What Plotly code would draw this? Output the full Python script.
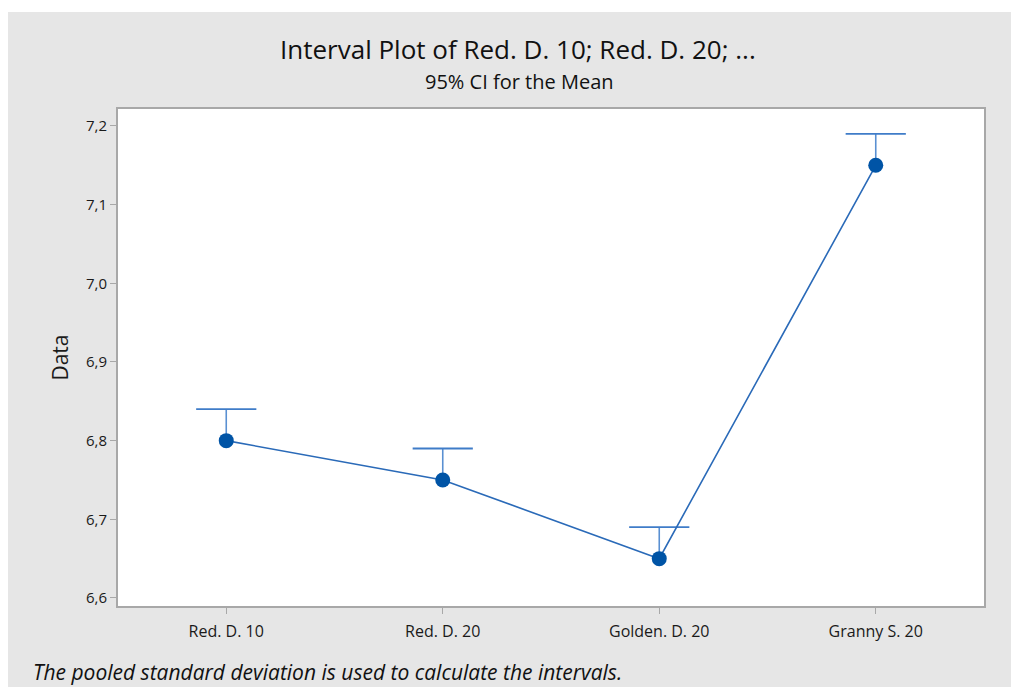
import plotly.graph_objects as go

categories = ["Red. D. 10", "Red. D. 20", "Golden. D. 20", "Granny S. 20"]
means = [6.80, 6.75, 6.65, 7.15]
upper = [6.84, 6.79, 6.69, 7.19]
y_ticks = [6.6, 6.7, 6.8, 6.9, 7.0, 7.1, 7.2]

xpos = list(range(len(categories)))

# stems from mean to upper CI limit
stem_x, stem_y = [], []
for x, m, u in zip(xpos, means, upper):
    stem_x += [x, x, None]
    stem_y += [m, u, None]

fig = go.Figure()
fig.add_trace(go.Scatter(
    x=stem_x, y=stem_y, mode="lines",
    line=dict(color="#5a90d2", width=1.6),
    hoverinfo="skip", showlegend=False,
))
fig.add_trace(go.Scatter(
    x=xpos, y=upper, mode="markers",
    marker=dict(symbol="line-ew", size=43, line=dict(color="#3f7cc8", width=1.8)),
    hoverinfo="skip", showlegend=False,
))
fig.add_trace(go.Scatter(
    x=xpos, y=means, mode="lines+markers",
    line=dict(color="#2a6ab8", width=1.6),
    marker=dict(color="#0054a6", size=15),
    hoverinfo="skip", showlegend=False,
))

font_family = "Open Sans, Noto Sans, DejaVu Sans, sans-serif"

fig.update_layout(
    width=1011, height=679,
    margin=dict(l=110, r=35, t=101, b=81),
    paper_bgcolor="#e6e6e6",
    plot_bgcolor="white",
    separators=",.",
    font=dict(family=font_family, color="#222"),
    xaxis=dict(
        range=[-0.5, 3.5], tickmode="array", tickvals=xpos, ticktext=categories,
        showgrid=False, zeroline=False, showline=True, mirror=True,
        linecolor="#a8a8a8", linewidth=2,
        ticks="outside", ticklen=6, tickcolor="#a8a8a8", tickwidth=1,
        tickfont=dict(size=16, color="#1a1a1a"), ticklabelstandoff=4,
    ),
    yaxis=dict(
        range=[6.5898, 7.2216], tickmode="array", tickvals=y_ticks, tickformat=".1f",
        showgrid=False, zeroline=False, showline=True, mirror=True,
        linecolor="#a8a8a8", linewidth=2,
        ticks="outside", ticklen=6, tickcolor="#a8a8a8", tickwidth=1,
        tickfont=dict(size=15, color="#1a1a1a"),
        title=dict(text="Data", font=dict(size=21, color="#1a1a1a"), standoff=12),
    ),
    shapes=[
        dict(type="rect", xref="paper", yref="paper",
             x0=-1, x1=2, y0=(606 - 12) / 497, y1=2,
             fillcolor="white", line=dict(width=0), layer="below"),
    ],
    annotations=[
        dict(text="Interval Plot of Red. D. 10; Red. D. 20; ...", xref="paper", yref="paper",
             x=(518 - 118) / 866, y=(606 - 49) / 497, xanchor="center", yanchor="middle",
             showarrow=False, font=dict(size=26, color="#111")),
        dict(text="95% CI for the Mean", xref="paper", yref="paper",
             x=(519 - 118) / 866, y=(606 - 82) / 497, xanchor="center", yanchor="middle",
             showarrow=False, font=dict(size=20, color="#111")),
        dict(text="<i>The pooled standard deviation is used to calculate the intervals.</i>",
             xref="paper", yref="paper",
             x=(31 - 118) / 866, y=(606 - 672) / 497, xanchor="left", yanchor="middle",
             showarrow=False, font=dict(size=21, color="#111")),
    ],
)

fig.write_html("out.html")
